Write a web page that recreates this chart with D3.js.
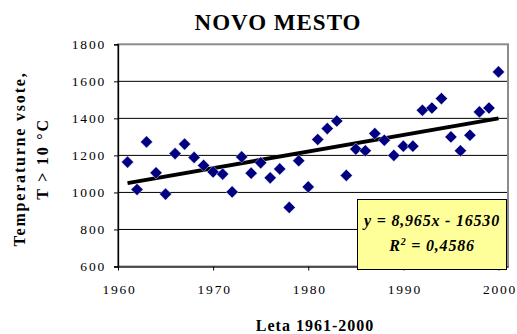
<!DOCTYPE html>
<html>
<head>
<meta charset="utf-8">
<script src="https://cdn.jsdelivr.net/npm/d3@7"></script>
<style>
  html, body { margin: 0; padding: 0; background: #fff; }
  svg { display: block; }
  text { font-family: "Liberation Serif", "Times New Roman", serif; fill: #000; }
</style>
</head>
<body>
<svg id="chart" width="517" height="334"></svg>
<script>
// Yearly temperature sums above 10 °C, Novo mesto
const years = [1961, 1962, 1963, 1964, 1965, 1966, 1967, 1968, 1969, 1970,
               1971, 1972, 1973, 1974, 1975, 1976, 1977, 1978, 1979, 1980,
               1981, 1982, 1983, 1984, 1985, 1986, 1987, 1988, 1989, 1990,
               1991, 1992, 1993, 1994, 1995, 1996, 1997, 1998, 1999, 2000];
const sums = [1164, 1016, 1273, 1106, 991, 1210, 1261, 1189, 1146, 1111,
              1099, 1003, 1192, 1104, 1160, 1079, 1127, 919, 1171, 1030,
              1286, 1345, 1386, 1092, 1234, 1225, 1318, 1282, 1200, 1250,
              1250, 1444, 1456, 1507, 1300, 1225, 1309, 1435, 1456, 1651];

// Linear trend y = slope * x + intercept, R²
const trendSlope = 8.965;
const trendIntercept = -16530;
const trendR2 = 0.4586;

const xTicks = [1960, 1970, 1980, 1990, 2000];
const yTicks = [600, 800, 1000, 1200, 1400, 1600, 1800];

const svg = d3.select("#chart");

const plot = { left: 118, right: 508, top: 44.3, bottom: 266.5 };

const x = d3.scaleLinear().domain([1960, 2001]).range([plot.left, plot.right]);
const y = d3.scaleLinear().domain([600, 1800]).range([plot.bottom, plot.top]);

const fmtNum = d => String(d);
const fmtComma = (v, digits) => v.toFixed(digits).replace(".", ",");

// Horizontal gridlines
svg.append("g")
  .selectAll("line")
  .data(yTicks.slice(1, -1))
  .join("line")
  .attr("x1", plot.left).attr("x2", plot.right)
  .attr("y1", d => y(d)).attr("y2", d => y(d))
  .attr("stroke", "#000").attr("stroke-width", 1);

// Plot area border
svg.append("rect")
  .attr("x", plot.left).attr("y", plot.top)
  .attr("width", plot.right - plot.left)
  .attr("height", plot.bottom - plot.top)
  .attr("fill", "none")
  .attr("stroke", "#8c8c8c")
  .attr("stroke-width", 2);

// Y axis
const yAxis = svg.append("g")
  .attr("transform", `translate(${plot.left},0)`)
  .call(d3.axisLeft(y).tickValues(yTicks).tickFormat(fmtNum).tickSize(4).tickPadding(10));
yAxis.select(".domain").attr("stroke", "#000").attr("stroke-width", 1.3);
yAxis.selectAll(".tick line").attr("stroke", "#000");
yAxis.selectAll(".tick text")
  .attr("font-family", "Liberation Serif, serif")
  .attr("font-size", 13.5)
  .attr("letter-spacing", "1.8px")
  .attr("dx", "2px");

// X axis
const xAxis = svg.append("g")
  .attr("transform", `translate(0,${plot.bottom})`)
  .call(d3.axisBottom(x).tickValues(xTicks).tickFormat(fmtNum).tickSize(4).tickPadding(14).tickSizeOuter(0));
xAxis.select(".domain").attr("stroke", "#333").attr("stroke-width", 1.3);
xAxis.selectAll(".tick line").attr("stroke", "#000");
xAxis.selectAll(".tick text")
  .attr("font-family", "Liberation Serif, serif")
  .attr("font-size", 13.5)
  .attr("letter-spacing", "1.8px")
  .attr("dx", "1px");

// Trend line
const trend = [years[0], years[years.length - 1]].map(t => ({ t, v: trendSlope * t + trendIntercept }));
svg.append("path")
  .datum(trend)
  .attr("d", d3.line().x(d => x(d.t)).y(d => y(d.v)))
  .attr("stroke", "#000")
  .attr("stroke-width", 4)
  .attr("fill", "none");

// Data markers (diamonds)
const diamond = d3.symbol().type(d3.symbolSquare).size(74);
svg.append("g")
  .selectAll("path")
  .data(years.map((t, i) => ({ t, v: sums[i] })))
  .join("path")
  .attr("d", diamond)
  .attr("transform", d => `translate(${x(d.t)},${y(d.v)}) rotate(45)`)
  .attr("fill", "#000080")
  .attr("stroke", "#fff")
  .attr("stroke-width", 0.4);

// Equation box
const box = { x: 357.5, y: 199.5, w: 149, h: 70 };
svg.append("rect")
  .attr("x", box.x).attr("y", box.y)
  .attr("width", box.w).attr("height", box.h)
  .attr("fill", "#ffff99")
  .attr("stroke", "#000")
  .attr("stroke-width", 1);

const eq = svg.append("g")
  .attr("font-weight", "bold")
  .attr("font-style", "italic")
  .attr("font-size", 16)
  .attr("text-anchor", "middle");
eq.append("text")
  .attr("x", box.x + box.w / 2).attr("y", 226)
  .attr("letter-spacing", "0.8px")
  .text(`y = ${fmtComma(trendSlope, 3)}x - ${Math.abs(trendIntercept)}`);
const r2 = eq.append("text")
  .attr("x", box.x + box.w / 2).attr("y", 251)
  .attr("letter-spacing", "0.8px");
r2.append("tspan").text("R");
r2.append("tspan").attr("font-size", 10).attr("dy", -6).text("2");
r2.append("tspan").attr("dy", 6).text(` = ${fmtComma(trendR2, 4)}`);

// Title
svg.append("text")
  .attr("x", 278).attr("y", 30)
  .attr("text-anchor", "middle")
  .attr("font-weight", "bold")
  .attr("font-size", 23)
  .attr("letter-spacing", "1px")
  .text("NOVO MESTO");

// X axis title
svg.append("text")
  .attr("x", 315).attr("y", 331)
  .attr("text-anchor", "middle")
  .attr("font-weight", "bold")
  .attr("font-size", 16)
  .attr("letter-spacing", "1px")
  .text("Leta 1961-2000");

// Y axis title (two lines)
const yTitle = svg.append("g")
  .attr("transform", "translate(0,159) rotate(-90)")
  .attr("font-weight", "bold")
  .attr("font-size", 16)
  .attr("text-anchor", "middle")
  .attr("letter-spacing", "1.8px");
yTitle.append("text").attr("x", 0).attr("y", 25).text("Temperaturne vsote,");
yTitle.append("text").attr("x", 0).attr("y", 48).text("T > 10 °C");
</script>
</body>
</html>
